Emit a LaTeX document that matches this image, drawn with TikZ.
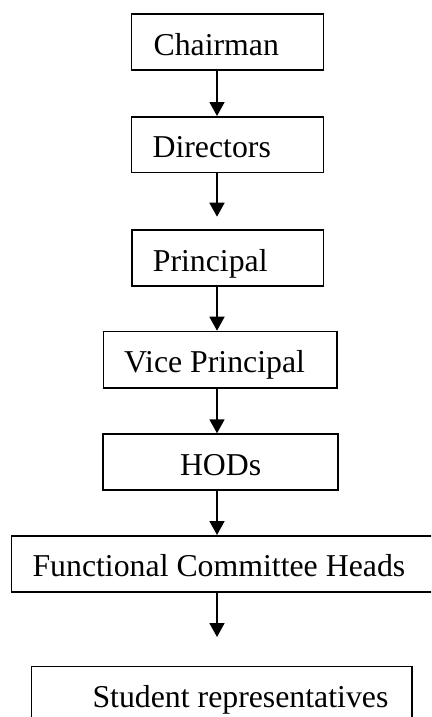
\documentclass[tikz,border=0pt]{standalone}
\usepackage{fontspec}
\setmainfont{Liberation Serif}
\usetikzlibrary{arrows.meta}
\newcommand{\boxtext}[3]{\makebox[#1][l]{\hspace*{#2}#3}}
\begin{document}
\begin{tikzpicture}[x=1pt,y=-1pt,
  orgbox/.style={draw, line width=1.7pt, anchor=north west, minimum height=56pt,
    inner xsep=0pt, inner ysep=0pt, text height=27pt, text depth=1pt,
    font=\fontsize{31.8}{36}\selectfont},
  link/.style={line width=1.7pt, -{Triangle[width=15pt,length=14pt]}}]
\clip (0,0) rectangle (431,717);
\coordinate (ax) at (217,0);
\node[orgbox] (chair) at (130.7,13.3) {\boxtext{192pt}{22pt}{Chairman}};
\node[orgbox, minimum height=55.7pt] (dir) at (130.7,116) {\boxtext{192pt}{21pt}{Directors}};
\node[orgbox] (prin) at (131,229.3) {\boxtext{191.7pt}{21pt}{Principal}};
\node[orgbox, minimum height=56.6pt] (vp) at (102.7,330.7) {\boxtext{233.6pt}{20.6pt}{Vice Principal}};
\node[orgbox] (hod) at (102.3,433.3) {\makebox[235pt][c]{HODs}};
\node[orgbox] (fch) at (10.7,535) {\boxtext{440pt}{21pt}{Functional Committee Heads}};
\node[orgbox] (stu) at (30.7,665.7) {\boxtext{380.6pt}{61pt}{Student representatives}};
\draw[link] (chair.south -| ax) -- (dir.north -| ax);
\draw[link, shorten >=12.6pt] (dir.south -| ax) -- (prin.north -| ax);
\draw[link] (prin.south -| ax) -- (vp.north -| ax);
\draw[link] (vp.south -| ax) -- (hod.north -| ax);
\draw[link] (hod.south -| ax) -- (fch.north -| ax);
\draw[link, shorten >=28.7pt] (fch.south -| ax) -- (stu.north -| ax);
\end{tikzpicture}
\end{document}
